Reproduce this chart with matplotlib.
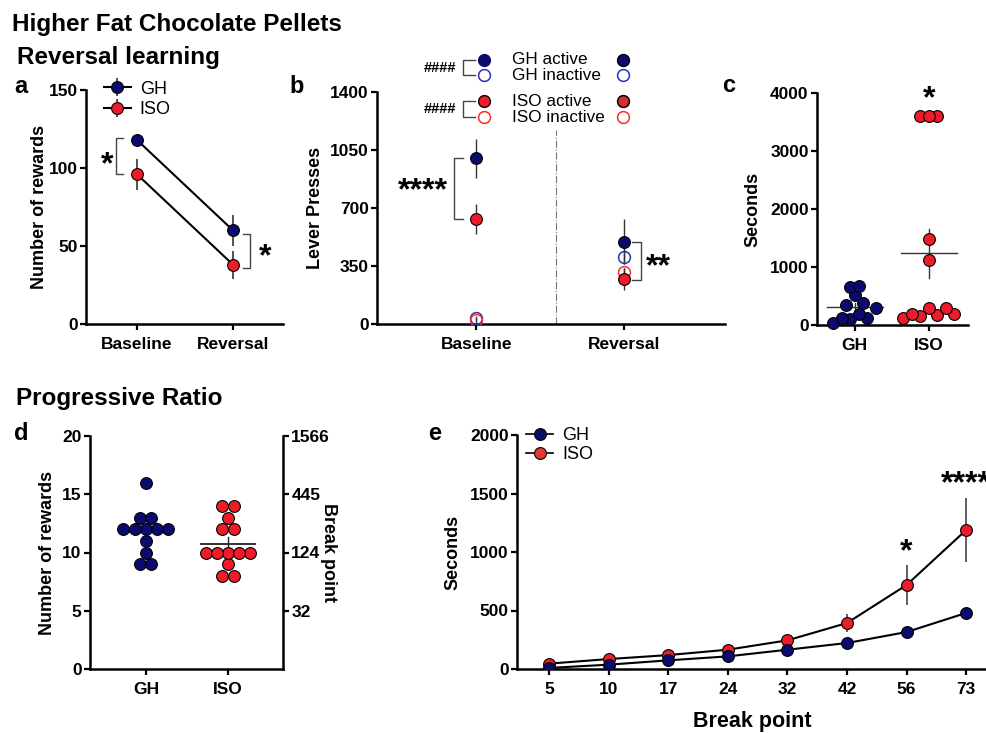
import numpy as np
import matplotlib.pyplot as plt
from matplotlib.lines import Line2D

plt.rcParams['font.family'] = ['Liberation Sans', 'DejaVu Sans']
plt.rcParams['font.weight'] = 'bold'
plt.rcParams['axes.labelweight'] = 'bold'

NAVY = '#0b0b6f'
RED = '#ee1c2b'

# a - reversal learning, rewards
a_groups = ['Baseline', 'Reversal']
a_gh = [118, 60]
a_gh_err = [3, 10]
a_iso = [96, 38]
a_iso_err = [10, 9]

# b - lever presses
b_groups = ['Baseline', 'Reversal']
b_gh_active = [999, 497]
b_gh_active_err = [118, 135]
b_gh_inactive = [36, 407]
b_gh_inactive_err = [10, 45]
b_iso_active = [632, 273]
b_iso_active_err = [90, 66]
b_iso_inactive = [22, 313]
b_iso_inactive_err = [15, 25]

# c - seconds (individual animals)
c_gh = [29, 98, 126, 126, 184, 298, 339, 373, 511, 648, 671]
c_iso = [126, 155, 172, 184, 184, 298, 298, 1119, 1475, 3600, 3600, 3600]

# d - progressive ratio rewards
d_gh = [9, 9, 10, 11, 12, 12, 12, 12, 12, 13, 13, 16]
d_iso = [8, 8, 9, 10, 10, 10, 10, 10, 12, 12, 13, 14, 14]
d_right_ticks = ['32', '124', '445', '1566']

# e - seconds per break point
e_bp = ['5', '10', '17', '24', '32', '42', '56', '73']
e_gh = [9, 37, 74, 108, 165, 222, 316, 479]
e_gh_err = [3, 5, 8, 10, 15, 20, 25, 30]
e_iso = [46, 85, 119, 165, 245, 393, 718, 1188]
e_iso_err = [8, 10, 12, 15, 25, 80, 175, 275]

W, H = 987, 733
fig = plt.figure(figsize=(W / 100, H / 100), dpi=100)


def add_ax(l, r, t, b):
    return fig.add_axes([l / W, 1 - b / H, (r - l) / W, (b - t) / H])


def style(ax):
    for s in ['top', 'right']:
        ax.spines[s].set_visible(False)
    for s in ['left', 'bottom']:
        ax.spines[s].set_linewidth(1.8)
    ax.tick_params(width=1.6, length=4.5, labelsize=12.5, pad=1.5)
    ax.tick_params(axis='x', pad=5)


def row_offsets(values, step, binw=1.0):
    # points in the same bin are spread side by side, low/high values alternating
    vals = np.asarray(values, float)
    keys = np.floor(vals / binw)
    offs = np.zeros(len(vals))
    for k in np.unique(keys):
        idx = np.where(keys == k)[0]
        idx = idx[np.argsort(vals[idx], kind='stable')]
        n = len(idx)
        half = (n + 1) // 2
        for j in range(n):
            r = j // 2 if j % 2 == 0 else half + j // 2
            offs[idx[r]] = (j - (n - 1) / 2) * step
    return offs


def stars(ax, x, y, s, size=23, **kw):
    ax.text(x, y, s, ha='center', va='center', fontsize=size, clip_on=False, **kw)


def bracket(ax, x, y0, y1, w):
    ax.plot([x + w, x, x, x + w], [y0, y0, y1, y1], color='#444', lw=1.0, clip_on=False)


mk = dict(marker='o', ms=8.5, mec='black', mew=0.8)

# titles
fig.text(12 / W, 1 - 31 / H, 'Higher Fat Chocolate Pellets', fontsize=17.5, va='baseline')
fig.text(17 / W, 1 - 64 / H, 'Reversal learning', fontsize=17.5, va='baseline')
fig.text(16 / W, 1 - 405 / H, 'Progressive Ratio', fontsize=17.5, va='baseline')
for lab, px, py in [('a', 14, 93), ('b', 289, 93), ('c', 722, 92), ('d', 14, 440), ('e', 428, 440)]:
    fig.text(px / W, 1 - py / H, lab, fontsize=17, va='baseline')

# ---------------- a ----------------
ax = add_ax(86, 283, 90, 324)
x = np.arange(len(a_groups))
ax.errorbar(x, a_gh, yerr=a_gh_err, color='black', lw=1.5, ecolor='#333', elinewidth=1.2,
            mfc=NAVY, label='GH', zorder=3, **mk)
ax.errorbar(x, a_iso, yerr=a_iso_err, color='black', lw=1.5, ecolor='#333', elinewidth=1.2,
            mfc=RED, label='ISO', zorder=3, **mk)
ax.set_xlim(-0.53, 1.52)
ax.set_ylim(0, 150)
ax.set_yticks([0, 50, 100, 150])
ax.set_xticks(x, a_groups)
ax.set_ylabel('Number of rewards', fontsize=13)
ax.yaxis.set_label_coords(-0.193, 0.5)
style(ax)
ax.legend(loc='upper left', bbox_to_anchor=(0.09, 1.04), frameon=False,
          prop={'weight': 'normal', 'size': 13}, handlelength=1.5, handletextpad=0.5,
          labelspacing=0.2, borderaxespad=0, borderpad=0)
bracket(ax, -0.22, a_gh[0] + 1, a_iso[0], 0.08)
stars(ax, -0.31, 102, '*')
bracket(ax, 1.18, a_gh[1] - 2, a_iso[1] - 2, -0.08)
stars(ax, 1.33, 43, '*')

# ---------------- b ----------------
ax = add_ax(377, 725, 92, 324)
x = np.arange(len(b_groups))
eb = dict(ls='none', ecolor='#333', elinewidth=1.0, zorder=3)
ax.errorbar(x, b_gh_inactive, yerr=b_gh_inactive_err, marker='o', ms=8.5, mfc='none',
            mec='#2233bb', mew=1.1, **eb)
ax.errorbar(x, b_iso_inactive, yerr=b_iso_inactive_err, marker='o', ms=8.5, mfc='none',
            mec='#ff2a2a', mew=1.1, **eb)
ax.errorbar(x, b_gh_active, yerr=b_gh_active_err, mfc=NAVY, **mk, **eb)
ax.errorbar(x, b_iso_active, yerr=b_iso_active_err, mfc=RED, **mk, **eb)
ax.axvline(0.54, ymax=1170 / 1400, color='#777', lw=0.8, ls='-.')
ax.set_xlim(-0.67, 1.68)
ax.set_ylim(0, 1400)
ax.set_yticks([0, 350, 700, 1050, 1400])
ax.set_xticks(x, b_groups)
ax.set_ylabel('Lever Presses', fontsize=13)
ax.yaxis.set_label_coords(-0.152, 0.5)
style(ax)
bracket(ax, -0.15, b_gh_active[0], b_iso_active[0], 0.06)
stars(ax, -0.36, 800, '****')
bracket(ax, 1.11, b_gh_active[1], b_iso_active[1] - 10, -0.06)
stars(ax, 1.23, 342, '**')

# custom legend with markers on both sides
leg_rows = [('GH active', NAVY, NAVY, NAVY, 'black'),
            ('GH inactive', 'none', '#2233bb', 'none', '#2233bb'),
            ('ISO active', RED, 'black', '#d3302a', 'black'),
            ('ISO inactive', 'none', '#ff2a2a', 'none', '#ff2a2a')]
leg_y = [1.138, 1.073, 0.961, 0.892]
for (lab, fc, ec, fc2, ec2), yy in zip(leg_rows, leg_y):
    ax.plot(0.307, yy, 'o', ms=8.5, mfc=fc, mec=ec, mew=1.0 if fc != 'none' else 1.1,
            transform=ax.transAxes, clip_on=False)
    ax.plot(0.707, yy, 'o', ms=8.5, mfc=fc2, mec=ec2, mew=1.1,
            transform=ax.transAxes, clip_on=False)
    ax.text(0.388, yy, lab, fontsize=12.3, fontweight='normal', va='center',
            transform=ax.transAxes)
for y0, y1 in [(leg_y[0], leg_y[1]), (leg_y[2], leg_y[3])]:
    ax.plot([0.282, 0.247, 0.247, 0.282], [y0, y0, y1, y1], color='#444', lw=1.0,
            transform=ax.transAxes, clip_on=False)
    ax.text(0.181, (y0 + y1) / 2, '####', fontsize=10.5, ha='center', va='center',
            transform=ax.transAxes)

# ---------------- c ----------------
ax = add_ax(817, 968, 93, 325)
ax.set_xlim(-0.51, 1.53)
ax.set_ylim(0, 4000)
step_c = 8.5 / (151 / 2.04)
for i, (vals, col) in enumerate([(c_gh, NAVY), (c_iso, RED)]):
    vals = np.asarray(vals, float)
    m = vals.mean()
    sem = vals.std(ddof=1) / np.sqrt(len(vals))
    ax.plot([i - 0.38, i + 0.38], [m, m], color='#333', lw=1.0, zorder=1)
    ax.plot([i, i], [m - sem, m + sem], color='#333', lw=1.0, zorder=1)
    ax.scatter(i + row_offsets(vals, step_c, 300), vals, s=72, c=col, edgecolors='black',
               linewidths=0.8, zorder=3, clip_on=False)
ax.set_yticks([0, 1000, 2000, 3000, 4000])
ax.set_xticks([0, 1], ['GH', 'ISO'])
ax.set_ylabel('Seconds', fontsize=13)
ax.yaxis.set_label_coords(-0.371, 0.5)
style(ax)
stars(ax, 1, 3900, '*')

# ---------------- d ----------------
ax = add_ax(90, 283, 436, 669)
ax.set_xlim(-0.68, 1.67)
ax.set_ylim(0, 20)
step_d = 11.2 / (193 / 2.35)
for i, (vals, col) in enumerate([(d_gh, NAVY), (d_iso, RED)]):
    vals = np.asarray(vals, float)
    m = vals.mean()
    sem = vals.std(ddof=1) / np.sqrt(len(vals))
    ax.plot([i - 0.33, i + 0.33], [m, m], color='#222', lw=1.3, zorder=1)
    ax.plot([i, i], [m - sem, m + sem], color='#222', lw=1.0, zorder=1)
    ax.scatter(i + row_offsets(vals, step_d), vals, s=72, c=col, edgecolors='black',
               linewidths=0.8, zorder=3)
ax.set_yticks([0, 5, 10, 15, 20])
ax.set_xticks([0, 1], ['GH', 'ISO'])
ax.set_ylabel('Number of rewards', fontsize=13)
ax.yaxis.set_label_coords(-0.176, 0.5)
style(ax)
axr = ax.twinx()
axr.set_ylim(0, 20)
axr.set_yticks([5, 10, 15, 20], d_right_ticks)
for s in ['top', 'left', 'bottom']:
    axr.spines[s].set_visible(False)
axr.spines['right'].set_linewidth(1.8)
axr.tick_params(width=1.6, length=4.5, labelsize=12.5, pad=1.5)
axr.set_ylabel('Break point', fontsize=13, rotation=270, va='bottom')
axr.yaxis.set_label_coords(1.19, 0.5)

# ---------------- e ----------------
ax = add_ax(517, 987, 435, 669)
x = np.arange(len(e_bp))
ax.errorbar(x, e_iso, yerr=e_iso_err, color='black', lw=1.5, ecolor='#444', elinewidth=1.2,
            mfc=RED, zorder=3, **mk)
ax.errorbar(x, e_gh, yerr=e_gh_err, color='black', lw=1.5, ecolor='#444', elinewidth=1.2,
            mfc=NAVY, zorder=4, **mk)
ax.set_xlim(-0.54, 7.35)
ax.set_ylim(0, 2000)
ax.set_yticks([0, 500, 1000, 1500, 2000])
ax.set_xticks(x, e_bp)
ax.set_ylabel('Seconds', fontsize=13)
ax.yaxis.set_label_coords(-0.119, 0.5)
ax.set_xlabel('Break point', fontsize=15.5, labelpad=10)
style(ax)
handles = [Line2D([], [], color='black', lw=1.2, mfc=NAVY, **mk),
           Line2D([], [], color='black', lw=1.2, mfc='#e23a2e', **mk)]
ax.legend(handles, ['GH', 'ISO'], loc='upper left', bbox_to_anchor=(0.02, 1.033), frameon=False,
          prop={'weight': 'normal', 'size': 13}, handlelength=1.5, handletextpad=0.5,
          labelspacing=0.1, borderaxespad=0, borderpad=0)
stars(ax, 6, 997, '*')
stars(ax, 7, 1580, '****')

fig.savefig('out.png', dpi=100)
